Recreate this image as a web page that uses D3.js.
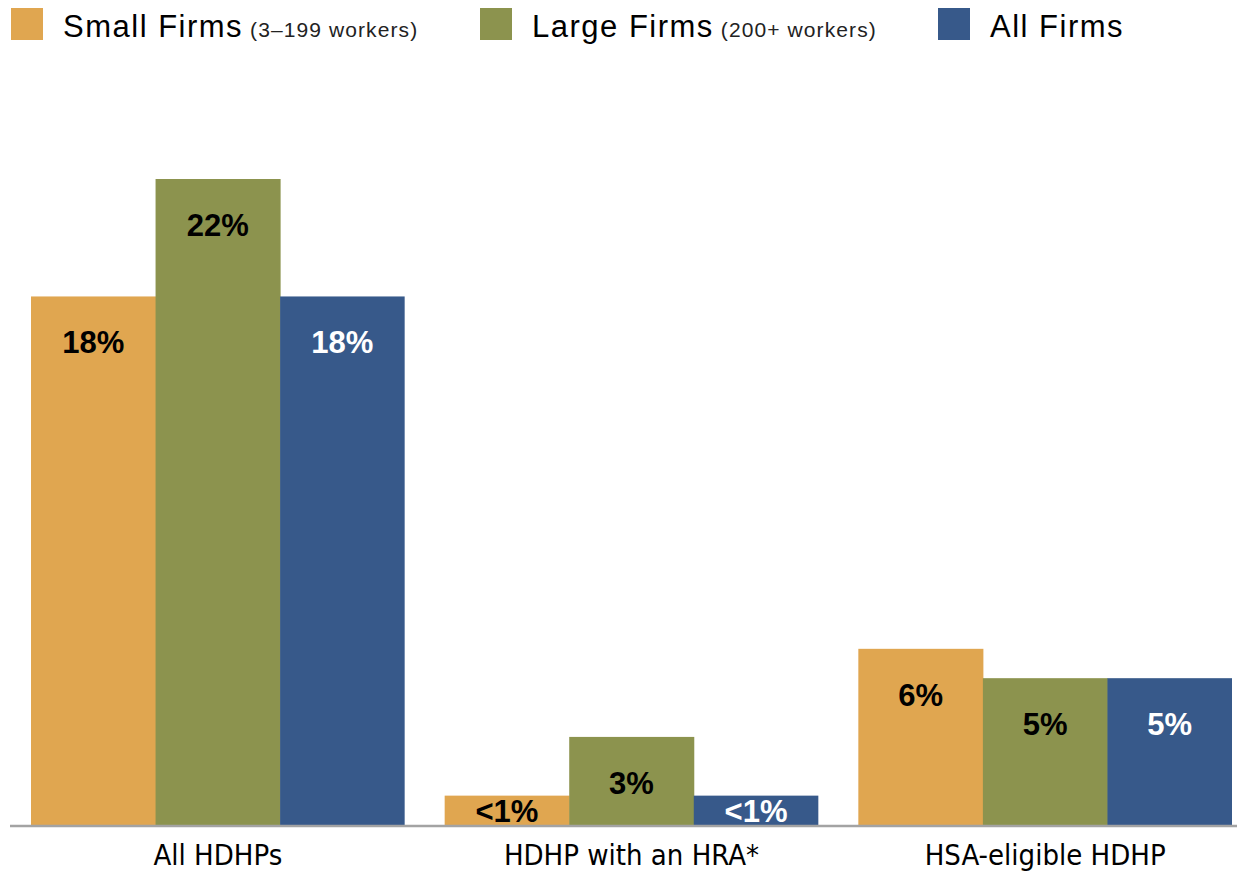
<!DOCTYPE html>
<html><head><meta charset="utf-8">
<script src="https://cdn.jsdelivr.net/npm/d3@7"></script>
<style>
html,body{margin:0;padding:0;background:#fff;}
svg{display:block;}
</style></head>
<body>
<svg id="chart" width="1237" height="875"></svg>
<script>
const categories = ["All HDHPs", "HDHP with an HRA*", "HSA-eligible HDHP"];
const seriesNames = ["Small Firms", "Large Firms", "All Firms"];
const seriesNotes = ["(3\u2013199 workers)", "(200+ workers)", ""];
const smallFirms = [18, 1, 6];
const largeFirms = [22, 3, 5];
const allFirms = [18, 1, 5];
const smallLabels = ["18%", "<1%", "6%"];
const largeLabels = ["22%", "3%", "5%"];
const allLabels = ["18%", "<1%", "5%"];
const colors = ["#E0A650", "#8C934E", "#37598A"];
const labelColors = ["#000", "#000", "#fff"];

const series = [
  {name: seriesNames[0], values: smallFirms, labels: smallLabels},
  {name: seriesNames[1], values: largeFirms, labels: largeLabels},
  {name: seriesNames[2], values: allFirms, labels: allLabels}
];

const svg = d3.select("#chart");
const baseY = 825;

const x0 = d3.scaleBand().domain(categories).range([31, 1232]).paddingInner(0.0967).paddingOuter(0);
const x1 = d3.scaleBand().domain(seriesNames).range([0, x0.bandwidth()]).padding(0);
const y = d3.scaleLinear().domain([0, 22]).range([baseY, 179]);

// bars
const groups = svg.append("g").selectAll("g").data(categories).join("g")
  .attr("transform", d => `translate(${x0(d)},0)`);

groups.each(function(cat, ci) {
  const g = d3.select(this);
  series.forEach((s, si) => {
    const v = s.values[ci];
    g.append("rect")
      .attr("x", x1(s.name))
      .attr("y", y(v))
      .attr("width", x1.bandwidth() + (si < 2 ? 0.5 : 0))
      .attr("height", baseY - y(v) + 1)
      .attr("fill", colors[si]);
    const ty = Math.min(y(v) + 57, baseY - 3);
    g.append("text")
      .attr("x", x1(s.name) + x1.bandwidth() / 2)
      .attr("y", ty)
      .attr("text-anchor", "middle")
      .attr("font-family", "'Liberation Sans', Arial, sans-serif")
      .attr("font-weight", "bold")
      .attr("font-size", 31)
      .attr("fill", labelColors[si])
      .text(s.labels[ci]);
  });
});

// axis
const axis = d3.axisBottom(x0).tickSize(0).tickPadding(0);
const ax = svg.append("g").attr("transform", `translate(0,${baseY})`).call(axis);
ax.select(".domain").remove();
svg.append("line").attr("x1", 10).attr("x2", 1237).attr("y1", baseY + 1).attr("y2", baseY + 1)
  .attr("stroke", "#A3A3A3").attr("stroke-width", 2.5);
ax.selectAll(".tick text")
  .attr("y", 40)
  .attr("dy", 0)
  .attr("fill", "#000")
  .attr("font-family", "'Liberation Sans Narrow', 'DejaVu Sans Condensed', 'Roboto Condensed', sans-serif")
  .attr("font-stretch", "condensed")
  .attr("font-size", 29);

// legend
const legendX = [11, 480, 938];
const leg = svg.append("g");
series.forEach((s, i) => {
  leg.append("rect").attr("x", legendX[i]).attr("y", 8).attr("width", 32).attr("height", 32).attr("fill", colors[i]);
  const t = leg.append("text").attr("x", legendX[i] + 52).attr("y", 37)
    .attr("font-family", "'Liberation Sans', Arial, sans-serif").attr("fill", "#000");
  t.append("tspan").attr("font-size", 31).attr("letter-spacing", 1.5).text(s.name);
  if (seriesNotes[i]) {
    t.append("tspan").attr("font-size", 21).attr("letter-spacing", 1.1).attr("fill", "#222").text(" " + seriesNotes[i]);
  }
});
</script>
</body></html>
